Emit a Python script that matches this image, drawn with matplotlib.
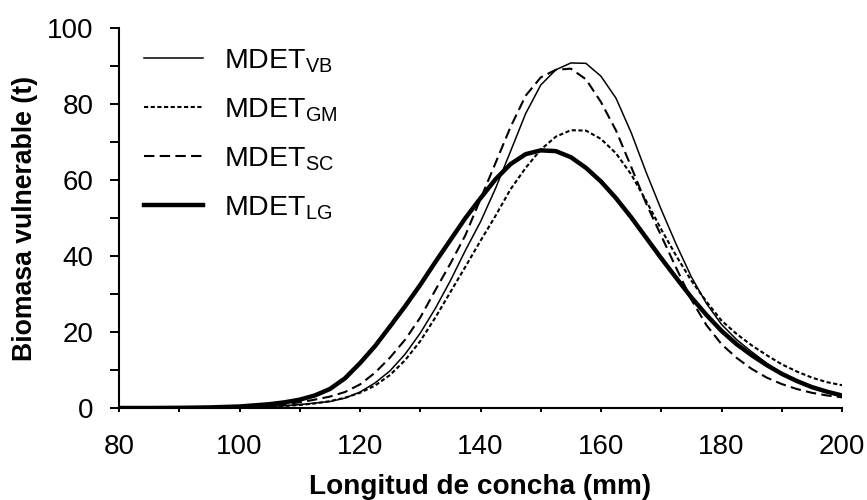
import matplotlib
matplotlib.use("Agg")
import matplotlib.pyplot as plt
from matplotlib.ticker import MultipleLocator

plt.rcParams['font.family'] = ['Liberation Sans', 'DejaVu Sans']
plt.rcParams['mathtext.fontset'] = 'custom'
plt.rcParams['mathtext.rm'] = 'Liberation Sans'
plt.rcParams['lines.scale_dashes'] = False

# Shell length (mm)
longitud = [80, 85, 90, 95, 100, 105, 107.5, 110, 112.5, 115, 117.5, 120, 122.5, 125,
            127.5, 130, 132.5, 135, 137.5, 140, 142.5, 145, 147.5, 150, 152.5, 155,
            157.5, 160, 162.5, 165, 167.5, 170, 172.5, 175, 177.5, 180, 182.5, 185,
            187.5, 190, 192.5, 195, 197.5, 200]

mdet_vb = [0, 0, 0, 0.05, 0.15, 0.4, 0.6, 0.9, 1.3, 1.7, 2.6, 4.2, 6.6, 9.8,
           14.2, 19.7, 26.2, 33.5, 41.5, 49.0, 57.8, 67.6, 77.5, 85.0, 89.0, 90.8,
           90.7, 87.3, 81.5, 72.5, 62.0, 52.2, 43.0, 34.5, 27.5, 22.0, 18.0, 14.8,
           11.8, 9.1, 7.0, 5.4, 4.3, 3.4]

mdet_gm = [0, 0, 0, 0.05, 0.15, 0.35, 0.55, 0.8, 1.2, 1.8, 2.7, 4.0, 5.9, 8.7,
           12.6, 17.6, 23.8, 30.5, 37.2, 44.0, 50.6, 57.6, 63.2, 68.0, 71.4, 73.1,
           73.0, 70.8, 67.0, 61.5, 54.5, 47.0, 40.0, 33.5, 28.0, 23.0, 19.5, 16.5,
           13.9, 11.5, 9.6, 8.0, 6.8, 6.0]

mdet_sc = [0, 0, 0, 0.1, 0.3, 0.7, 1.0, 1.5, 2.2, 3.0, 4.2, 6.2, 9.3, 13.3,
           18.0, 23.8, 31.0, 38.0, 45.5, 55.0, 64.5, 74.0, 82.2, 87.0, 89.0, 89.3,
           86.5, 80.5, 73.0, 63.5, 53.8, 45.3, 36.8, 28.5, 21.8, 16.8, 13.2, 10.3,
           8.0, 6.3, 5.0, 4.0, 3.3, 2.8]

mdet_lg = [0, 0, 0.05, 0.15, 0.4, 1.0, 1.5, 2.2, 3.3, 5.0, 7.8, 11.8, 16.3, 21.5,
           26.8, 32.4, 38.4, 44.2, 50.0, 55.2, 60.2, 64.2, 66.8, 67.8, 67.6, 66.0,
           63.2, 59.6, 55.2, 50.2, 44.8, 39.4, 34.2, 29.1, 24.5, 20.3, 16.8, 13.9,
           11.3, 9.0, 7.1, 5.5, 4.3, 3.3]

labels = [r'MDET$_{\rm VB}$', r'MDET$_{\rm GM}$', r'MDET$_{\rm SC}$', r'MDET$_{\rm LG}$']

fig = plt.figure(figsize=(8.67, 5.0), dpi=100)
ax = fig.add_axes([119/867, 1-408/500, (842-119)/867, (408-28)/500])

ax.plot(longitud, mdet_vb, color='black', lw=1.1, ls='-', label=labels[0])
ax.plot(longitud, mdet_gm, color='black', lw=1.5, ls=(0, (3.0, 1.8)), label=labels[1])
ax.plot(longitud, mdet_sc, color='black', lw=1.5, ls=(0, (7.5, 3.8)), label=labels[2])
ax.plot(longitud, mdet_lg, color='black', lw=3.2, ls='-', label=labels[3])

ax.set_xlim(80, 200)
ax.set_ylim(0, 100)
ax.xaxis.set_major_locator(MultipleLocator(20))
ax.xaxis.set_minor_locator(MultipleLocator(10))
ax.yaxis.set_major_locator(MultipleLocator(20))
ax.yaxis.set_minor_locator(MultipleLocator(10))

for s in ['top', 'right']:
    ax.spines[s].set_visible(False)
for s in ['left', 'bottom']:
    ax.spines[s].set_linewidth(1.5)

ax.tick_params(axis='y', which='both', direction='out', length=6.5, width=1.4,
               labelsize=20, pad=12)
ax.tick_params(axis='x', which='both', direction='out', length=3.0, width=1.4,
               labelsize=20, pad=16)

ax.set_xlabel('Longitud de concha (mm)', fontsize=20.2, fontweight='bold', labelpad=10)
ax.set_ylabel('Biomasa vulnerable (t)', fontsize=19.2, fontweight='bold', labelpad=6)

leg = ax.legend(loc='upper left', bbox_to_anchor=(14/723, 0.98), frameon=False,
                fontsize=20.5, handlelength=2.07, handletextpad=0.72,
                labelspacing=0.75, borderaxespad=0.0)

fig.savefig('out.png', dpi=100)
